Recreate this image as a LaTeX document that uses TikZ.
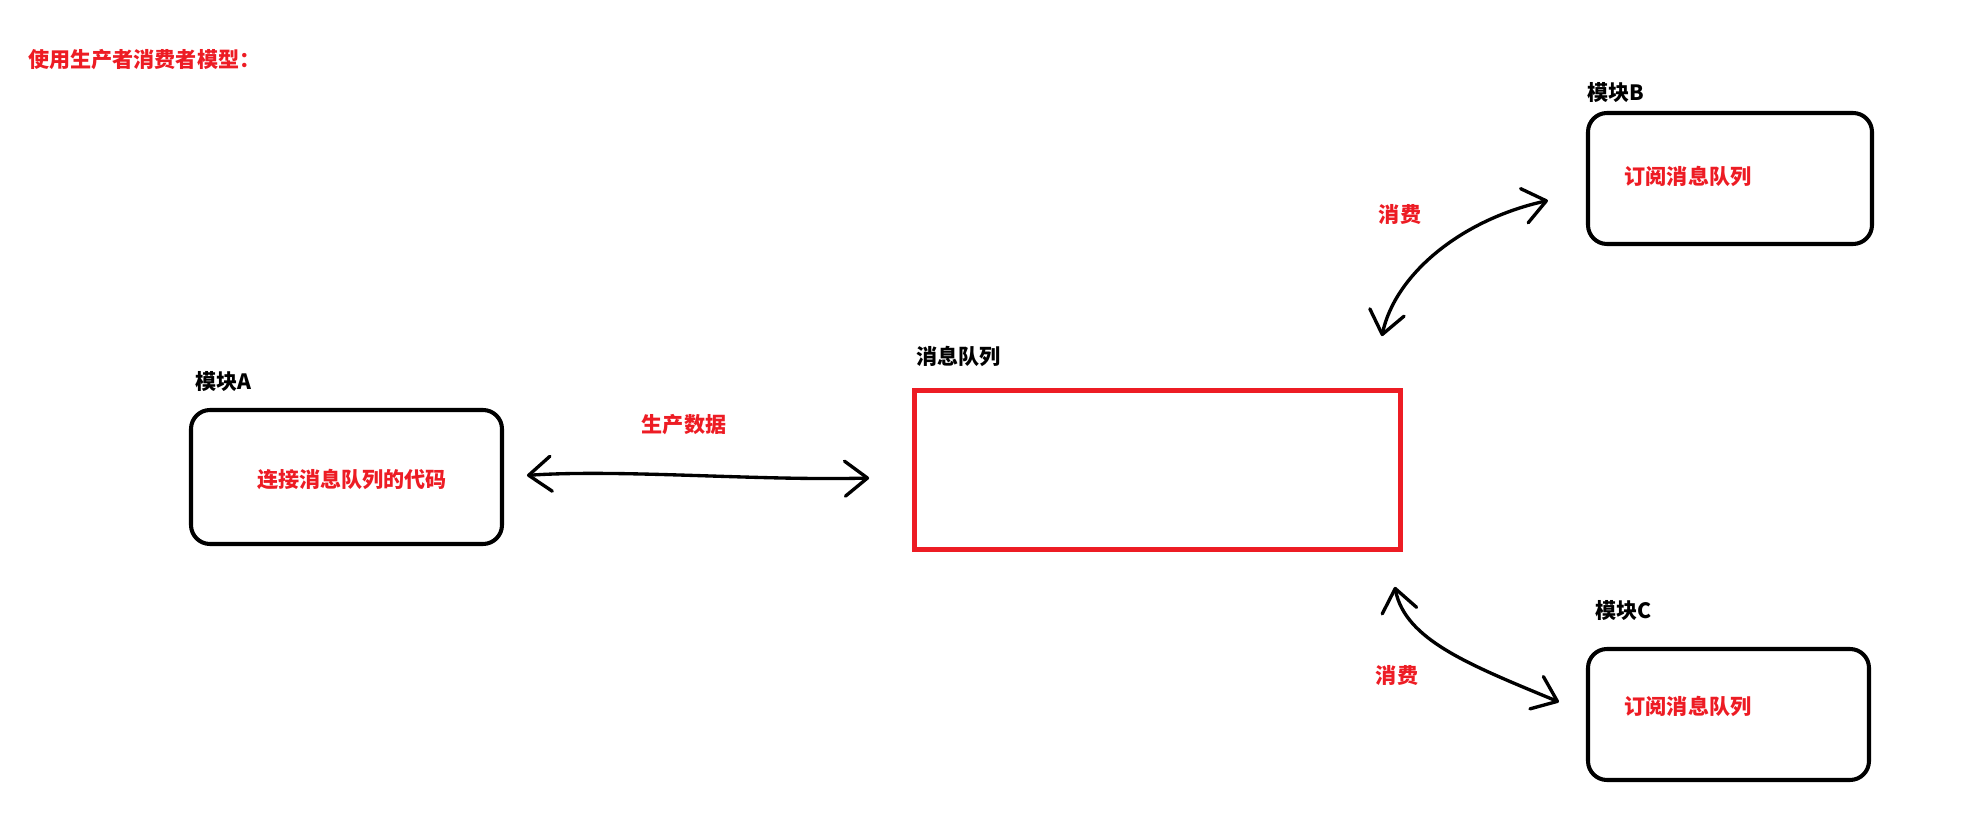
\documentclass[tikz,border=0pt]{standalone}
\usepackage{fontspec}
\newfontfamily\cjk{Noto Sans CJK SC}
\usetikzlibrary{arrows.meta}
\definecolor{paintred}{RGB}{237,28,36}

\begin{document}
\begin{tikzpicture}[x = 0.2mm, y = 0.2mm, font = \cjk\bfseries\fontsize{12}{14}\selectfont,
	module/.style = {draw, line width = 2.3pt, rounded corners = 3.8mm, minimum height = 26.2mm, inner sep = 0pt},
	queuebox/.style = {draw = paintred, line width = 2.7pt, minimum width = 97.2mm, minimum height = 31.8mm, inner sep = 0pt},
	hint/.style = {text = paintred, inner sep = 0pt},
	tag/.style = {inner sep = 0pt, anchor = west},
	conn/.style = {line width = 1.9pt, line cap = round, {Straight Barb[round, length = 4.5mm, width = 7mm]}-{Straight Barb[round, length = 4.5mm, width = 7mm]}}]

	\useasboundingbox (0, 0) rectangle (1972, 835);

	\node[hint, anchor = west] (title) at (28, 775) {使用生产者消费者模型：};

	\node[module, minimum width = 62.2mm, minimum height = 26.8mm] (modA) at (346.5, 358) {};
	\node[module, minimum width = 56.8mm] (modB) at (1730, 656.5) {};
	\node[module, minimum width = 56.2mm] (modC) at (1728.5, 120.5) {};
	\node[queuebox] (queue) at (1157.5, 365) {};

	\node[tag] (labA) at (195, 453) {模块A};
	\node[tag] (labB) at (1587, 742) {模块B};
	\node[tag] (labC) at (1595, 224) {模块C};
	\node[tag] (labQ) at (916, 479) {消息队列};

	\node[hint] (txtA) at (352, 355) {连接消息队列的代码};
	\node[hint] (txtB) at (1688, 659) {订阅消息队列};
	\node[hint] (txtC) at (1688, 129) {订阅消息队列};

	\node[hint] (produce) at (684, 410) {生产数据};
	\node[hint] (useB) at (1400, 621) {消费};
	\node[hint] (useC) at (1397, 160) {消费};

	\coordinate (qa) at ([shift = {(-43, -8)}]queue.west);
	\coordinate (qb) at ([shift = {(-21, 52)}]queue.north east);
	\coordinate (bq) at ([shift = {(-38, -22)}]modB.west);
	\coordinate (qc) at ([shift = {(-8, -35)}]queue.south east);
	\coordinate (cq) at ([shift = {(-27, 12.5)}]modC.west);

	\draw[conn, shorten <= 4.6mm] (modA.east) .. controls (620, 366) and (760, 354) .. (qa);
	\draw[conn] (qb) .. controls (1395, 560) and (1460, 615) .. (bq);
	\draw[conn] (qc) .. controls (1405, 195) and (1470, 170) .. (cq);
\end{tikzpicture}
\end{document}
